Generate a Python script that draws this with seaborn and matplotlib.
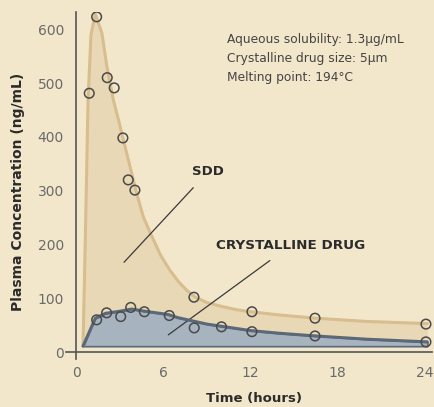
import matplotlib
matplotlib.use("Agg")
import matplotlib.pyplot as plt
import seaborn as sns
import pandas as pd

# Observed plasma concentrations (ng/mL) over time (hours)
sdd_t = [0.88, 1.39, 2.12, 2.6, 3.2, 3.57, 4.03, 8.1, 12.1, 16.45, 24.1]
sdd_v = [481, 623, 510, 491, 398, 320, 301, 102, 75, 63, 52]
cry_t = [1.39, 2.08, 3.05, 3.74, 4.68, 6.4, 8.12, 10.0, 12.1, 16.45, 24.1]
cry_v = [60, 73, 66, 83, 75, 68, 45, 47, 38, 30, 19]

# Fitted concentration profiles
sdd_curve_t = [0.45, 0.6, 0.8, 1.0, 1.3, 1.75, 2.1, 2.55, 2.9, 3.2, 3.7, 4.1, 4.6,
               5.1, 5.8, 6.45, 7.0, 7.6, 8.2, 9.0, 10.0, 11.0, 12.0, 14.0, 16.5,
               20.0, 24.2]
sdd_curve_v = [11, 200, 470, 590, 628, 593, 530, 468, 431, 398, 344, 300, 252,
               221, 180, 152, 132, 115, 102, 92, 85, 79, 75, 69, 63, 57, 53]
cry_curve_t = [0.45, 1.3, 2.0, 3.0, 3.8, 4.7, 6.3, 7.0, 8.0, 9.0, 10.0, 12.0,
               14.0, 16.5, 20.0, 24.2]
cry_curve_v = [11, 63, 72, 76, 80, 76, 70, 64, 58, 52, 48, 40, 35, 30, 24, 19]
baseline = 11

x_ticks = [0, 6, 12, 18, 24]
y_ticks = [0, 100, 200, 300, 400, 500, 600]
info_lines = ["Aqueous solubility: 1.3\u03bcg/mL",
              "Crystalline drug size: 5\u03bcm",
              "Melting point: 194\u00b0C"]

paper = "#f3e7cb"
sdd_fill = "#e8d8b6"
sdd_line = "#d8bd8e"
cry_fill = "#a7b4c0"
cry_line = "#5b6878"
ink = "#2b2b2b"

sns.set_theme(style="white")
plt.rcParams["font.family"] = ["DejaVu Sans"]

fig = plt.figure(figsize=(4.35, 4.07), dpi=100, facecolor=paper)
ax = fig.add_axes([0.1525, 0.119, 0.840, 0.8515])
ax.set_facecolor(paper)

sdd_df = pd.DataFrame({"t": sdd_curve_t, "v": sdd_curve_v})
cry_df = pd.DataFrame({"t": cry_curve_t, "v": cry_curve_v})

ax.fill_between(sdd_curve_t, baseline, sdd_curve_v, color=sdd_fill, lw=0, zorder=1)
ax.fill_between(cry_curve_t, baseline, cry_curve_v, color=cry_fill,
                edgecolor=cry_line, lw=1.2, zorder=2)

sns.lineplot(data=sdd_df, x="t", y="v", ax=ax, color=sdd_line, lw=2.2,
             sort=False, zorder=3)
sns.lineplot(data=cry_df, x="t", y="v", ax=ax, color=cry_line, lw=2.2,
             sort=False, zorder=4)

obs = pd.DataFrame({"t": sdd_t + cry_t, "v": sdd_v + cry_v})
sns.scatterplot(data=obs, x="t", y="v", ax=ax, marker="o", s=48,
                facecolor="none", edgecolor="#4a4a4a", linewidth=1.1, zorder=5)

ax.set_xlim(-0.7, 24.5)
ax.set_ylim(-12, 632)
ax.set_xticks(x_ticks)
ax.set_yticks(y_ticks)
ax.tick_params(axis="both", length=0, labelsize=10, labelcolor="#6a6a6a")
ax.tick_params(axis="x", pad=10)
ax.tick_params(axis="y", pad=9)

for side in ["top", "right"]:
    ax.spines[side].set_visible(False)
ax.spines["left"].set_position(("data", 0))
ax.spines["bottom"].set_position(("data", 0))
for side in ["left", "bottom"]:
    ax.spines[side].set_color("#555555")
    ax.spines[side].set_linewidth(1.2)

ax.set_xlabel("")
ax.set_ylabel("")
fig.text(0.583, 0.02, "Time (hours)", ha="center", va="center",
         fontsize=9.5, fontweight="bold", color=ink)
fig.text(0.041, 0.528, "Plasma Concentration (ng/mL)", ha="center", va="center",
         rotation=90, fontsize=10, fontweight="bold", color=ink)

ax.annotate("SDD", xy=(3.28, 167), xytext=(9.07, 335), ha="center", va="center",
            fontsize=9.5, fontweight="bold", color=ink,
            arrowprops=dict(arrowstyle="-", color="#3a3a3a", lw=0.9,
                            shrinkA=6, shrinkB=0))
ax.annotate("CRYSTALLINE DRUG", xy=(6.33, 32), xytext=(14.8, 199),
            ha="center", va="center", fontsize=9.7, fontweight="bold", color=ink,
            arrowprops=dict(arrowstyle="-", color="#3a3a3a", lw=0.9,
                            shrinkA=7, shrinkB=0))

for i, line in enumerate(info_lines):
    fig.text(0.522, 0.904 - i * 0.0467, line, ha="left", va="center",
             fontsize=8.8, color="#444444")

fig.savefig("out.png", dpi=100, facecolor=paper)
